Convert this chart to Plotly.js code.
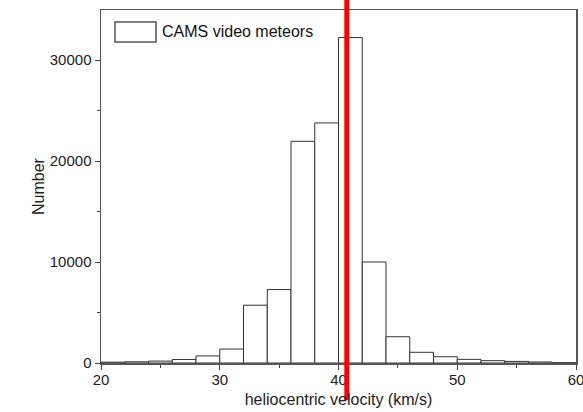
<!DOCTYPE html>
<html>
<head>
<meta charset="utf-8">
<script src="https://cdn.plot.ly/plotly-3.0.1.min.js"></script>
<style>html,body{margin:0;padding:0;background:#fff;overflow:hidden;}#chart{width:583px;height:412px;}</style>
</head>
<body>
<div id="chart"></div>
<script>
// Histogram bins (km/s), 2 km/s wide
var binStarts = [20, 22, 24, 26, 28, 30, 32, 34, 36, 38, 40, 42, 44, 46, 48, 50, 52, 54, 56, 58];
var counts    = [80, 120, 190, 350, 700, 1380, 5720, 7270, 21950, 23770, 32220, 10000, 2600, 1060, 620, 360, 230, 160, 100, 30];
var binWidth = 2;
var legendLabel = "CAMS video meteors";
var markerVelocity = 40.7;
var xTickVals = [20, 30, 40, 50, 60];
var yTickVals = [0, 10000, 20000, 30000];

var centers = binStarts.map(function (s) { return s + binWidth / 2; });

var trace = {
  type: 'bar',
  x: centers,
  y: counts,
  width: binStarts.map(function () { return binWidth; }),
  marker: { color: '#ffffff', line: { color: '#333333', width: 1 } },
  name: legendLabel,
  showlegend: false,
  hoverinfo: 'x+y'
};

var fontFam = 'Arial, "Liberation Sans", sans-serif';

var layout = {
  width: 583,
  height: 412,
  margin: { l: 101, r: 7, t: 10, b: 49, pad: 0 },
  paper_bgcolor: '#ffffff',
  plot_bgcolor: '#ffffff',
  font: { family: fontFam, size: 15, color: '#222' },
  bargap: 0,
  xaxis: {
    range: [20, 60],
    tickvals: xTickVals,
    tickformat: 'd',
    ticklabeloverflow: 'allow',
    ticklabelstandoff: -3,
    ticks: 'outside',
    ticklen: 5,
    tickwidth: 1,
    tickcolor: '#444',
    showline: true,
    linecolor: '#555',
    linewidth: 1.5,
    mirror: true,
    showgrid: false,
    zeroline: false,
    minor: { dtick: 5, tick0: 25, ticks: 'outside', ticklen: 3, tickcolor: '#444', showgrid: false },
    tickfont: { family: fontFam, size: 15, color: '#222' },
    title: { text: 'heliocentric velocity (km/s)', font: { family: fontFam, size: 16, color: '#222' }, standoff: 7 }
  },
  yaxis: {
    range: [0, 34950],
    tickvals: yTickVals,
    tickformat: 'd',
    ticklabelstandoff: 0,
    ticks: 'outside',
    ticklen: 5,
    tickwidth: 1,
    tickcolor: '#444',
    showline: true,
    linecolor: '#555',
    linewidth: 1.5,
    mirror: true,
    showgrid: false,
    zeroline: false,
    minor: { dtick: 10000, tick0: 5000, ticks: 'outside', ticklen: 3, tickcolor: '#444', showgrid: false },
    tickfont: { family: fontFam, size: 15, color: '#222' },
    title: { text: 'Number', font: { family: fontFam, size: 16, color: '#222' }, standoff: 1 }
  },
  shapes: [
    {
      type: 'line', xref: 'x', yref: 'paper',
      x0: markerVelocity, x1: markerVelocity, y0: -0.105, y1: 1.03,
      line: { color: '#ff0000', width: 5 }, layer: 'above'
    },
    {
      type: 'rect', xref: 'paper', yref: 'paper',
      x0: 14 / 475, x1: 55 / 475, y0: (363 - 42) / 353, y1: (363 - 22) / 353,
      line: { color: '#555', width: 1.5 }, fillcolor: '#ffffff', layer: 'above'
    }
  ],
  annotations: [
    {
      xref: 'paper', yref: 'paper', x: 59 / 475, y: (363 - 32) / 353,
      xanchor: 'left', yanchor: 'middle', showarrow: false,
      text: legendLabel, font: { family: fontFam, size: 16, color: '#111' }
    }
  ]
};

Plotly.newPlot('chart', [trace], layout, { staticPlot: true, displayModeBar: false });
</script>
</body>
</html>
